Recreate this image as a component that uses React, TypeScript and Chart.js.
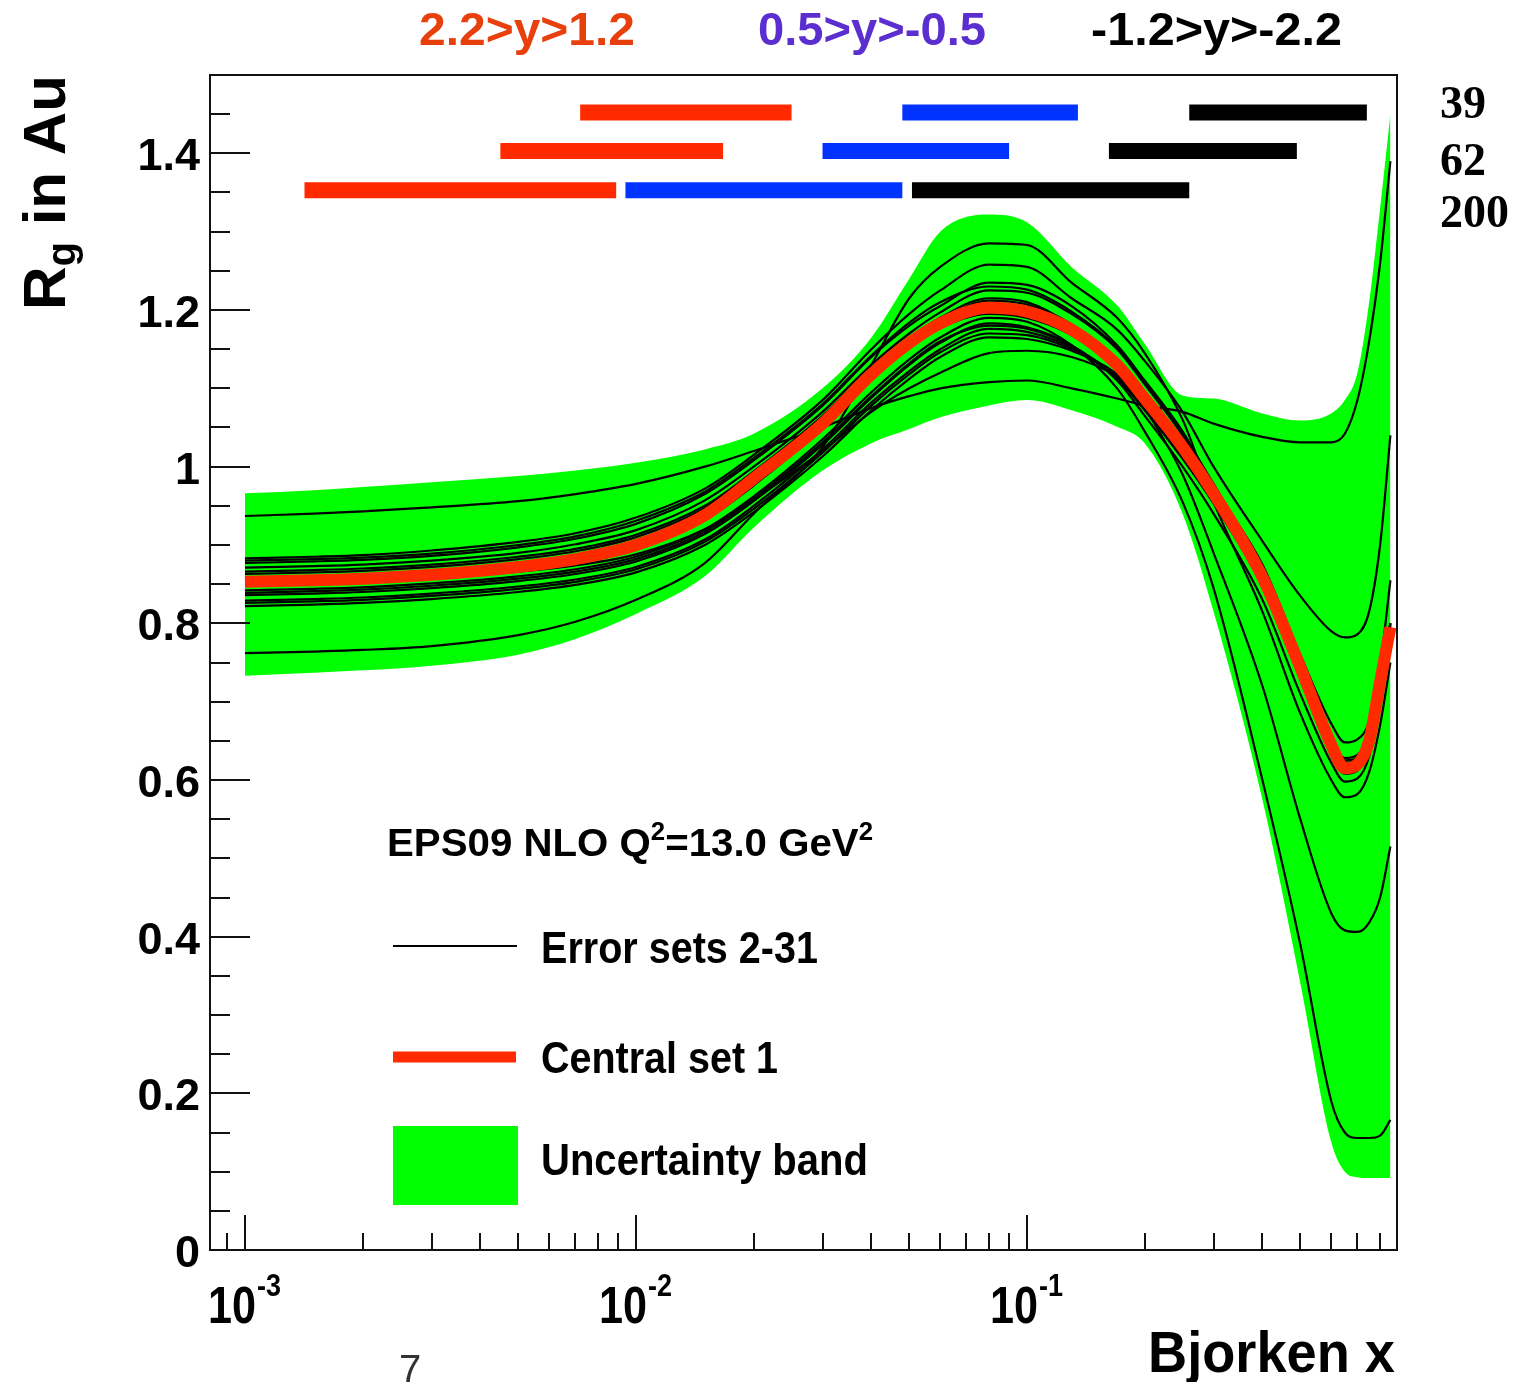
import React, { useEffect, useRef } from 'react';
import { Chart, registerables } from 'chart.js';

Chart.register(...registerables);

// ---------- data ----------
const X_GRID = [0.001, 0.0015, 0.002, 0.003, 0.005, 0.007, 0.01, 0.015, 0.02, 0.03, 0.04, 0.05, 0.06, 0.08, 0.1, 0.13, 0.17, 0.2, 0.25, 0.3, 0.4, 0.5, 0.6, 0.65, 0.7, 0.75, 0.8, 0.85];

const CENTRAL_SET = [0.853, 0.855, 0.857, 0.862, 0.872, 0.882, 0.900, 0.938, 0.985, 1.055, 1.118, 1.158, 1.183, 1.203, 1.198, 1.175, 1.130, 1.087, 1.025, 0.966, 0.859, 0.744, 0.645, 0.615, 0.620, 0.650, 0.725, 0.795];

const BAND_UPPER = [0.966, 0.970, 0.974, 0.980, 0.988, 0.995, 1.005, 1.022, 1.042, 1.100, 1.165, 1.240, 1.300, 1.322, 1.312, 1.255, 1.206, 1.157, 1.091, 1.087, 1.068, 1.059, 1.068, 1.085, 1.120, 1.210, 1.330, 1.450];
const BAND_LOWER = [0.733, 0.737, 0.740, 0.746, 0.760, 0.780, 0.812, 0.860, 0.922, 0.995, 1.030, 1.048, 1.063, 1.078, 1.085, 1.072, 1.051, 1.030, 0.940, 0.815, 0.575, 0.341, 0.138, 0.100, 0.093, 0.092, 0.092, 0.092];

const ERR_A = [0.937, 0.940, 0.943, 0.948, 0.956, 0.965, 0.978, 1.000, 1.020, 1.050, 1.075, 1.090, 1.100, 1.108, 1.110, 1.100, 1.087, 1.078, 1.070, 1.055, 1.038, 1.031, 1.031, 1.042, 1.085, 1.160, 1.260, 1.390];
const ERR_B = [0.762, 0.764, 0.766, 0.771, 0.785, 0.802, 0.830, 0.877, 0.940, 1.025, 1.130, 1.215, 1.255, 1.285, 1.283, 1.235, 1.190, 1.145, 1.060, 0.955, 0.815, 0.685, 0.600, 0.578, 0.582, 0.610, 0.670, 0.750];
const ERR_C = [0.883, 0.885, 0.887, 0.893, 0.904, 0.915, 0.935, 0.972, 1.015, 1.085, 1.150, 1.195, 1.225, 1.258, 1.255, 1.215, 1.175, 1.135, 1.070, 1.000, 0.905, 0.835, 0.790, 0.782, 0.786, 0.815, 0.900, 1.040];
const ERR_D = [0.877, 0.879, 0.881, 0.886, 0.897, 0.908, 0.927, 0.965, 1.008, 1.078, 1.140, 1.180, 1.205, 1.235, 1.232, 1.205, 1.155, 1.110, 1.045, 0.975, 0.875, 0.760, 0.672, 0.648, 0.652, 0.675, 0.745, 0.855];
const ERR_E = [0.871, 0.873, 0.875, 0.880, 0.890, 0.901, 0.919, 0.957, 1.000, 1.070, 1.130, 1.170, 1.197, 1.225, 1.222, 1.195, 1.150, 1.105, 1.040, 0.975, 0.865, 0.750, 0.652, 0.625, 0.628, 0.658, 0.730, 0.800];
const ERR_F = [0.866, 0.868, 0.870, 0.875, 0.885, 0.895, 0.913, 0.950, 0.994, 1.065, 1.125, 1.163, 1.190, 1.215, 1.210, 1.180, 1.130, 1.075, 0.990, 0.890, 0.720, 0.550, 0.430, 0.408, 0.406, 0.418, 0.450, 0.515];
const ERR_G = [0.842, 0.844, 0.846, 0.851, 0.860, 0.869, 0.885, 0.920, 0.962, 1.035, 1.095, 1.137, 1.165, 1.190, 1.185, 1.155, 1.100, 1.045, 0.955, 0.845, 0.600, 0.390, 0.190, 0.150, 0.143, 0.143, 0.146, 0.166];
const ERR_H = [0.836, 0.838, 0.840, 0.845, 0.854, 0.863, 0.879, 0.914, 0.956, 1.028, 1.088, 1.130, 1.158, 1.183, 1.178, 1.155, 1.110, 1.065, 1.000, 0.940, 0.830, 0.710, 0.622, 0.598, 0.602, 0.630, 0.700, 0.780];
const ERR_I = [0.829, 0.831, 0.833, 0.838, 0.847, 0.856, 0.872, 0.907, 0.950, 1.022, 1.082, 1.122, 1.150, 1.176, 1.172, 1.152, 1.112, 1.072, 1.010, 0.953, 0.848, 0.735, 0.640, 0.612, 0.615, 0.645, 0.720, 0.790];
const ERR_J = [0.822, 0.824, 0.826, 0.831, 0.840, 0.849, 0.865, 0.900, 0.942, 1.013, 1.072, 1.112, 1.140, 1.165, 1.163, 1.148, 1.118, 1.082, 1.020, 0.960, 0.855, 0.745, 0.652, 0.628, 0.632, 0.662, 0.735, 0.800];
const ERR_K = [0.850, 0.852, 0.854, 0.858, 0.866, 0.874, 0.888, 0.920, 0.958, 1.020, 1.070, 1.100, 1.120, 1.145, 1.148, 1.140, 1.115, 1.085, 1.030, 0.970, 0.862, 0.748, 0.645, 0.618, 0.622, 0.652, 0.725, 0.795];
const ERR_L = [0.858, 0.860, 0.862, 0.867, 0.877, 0.887, 0.905, 0.943, 0.987, 1.058, 1.120, 1.160, 1.187, 1.212, 1.207, 1.182, 1.137, 1.093, 1.030, 0.970, 0.862, 0.747, 0.648, 0.620, 0.624, 0.655, 0.730, 0.798];
const ERR_M = [0.848, 0.850, 0.852, 0.857, 0.867, 0.877, 0.894, 0.932, 0.976, 1.050, 1.113, 1.153, 1.177, 1.195, 1.190, 1.168, 1.124, 1.082, 1.020, 0.960, 0.853, 0.738, 0.640, 0.612, 0.615, 0.646, 0.722, 0.790];
const ERR_N = [0.880, 0.882, 0.884, 0.889, 0.900, 0.911, 0.931, 0.968, 1.011, 1.080, 1.142, 1.184, 1.210, 1.230, 1.226, 1.198, 1.152, 1.108, 1.042, 0.978, 0.868, 0.752, 0.650, 0.622, 0.626, 0.656, 0.730, 0.800];
const ERR_O = [0.863, 0.865, 0.867, 0.872, 0.882, 0.892, 0.910, 0.947, 0.991, 1.062, 1.122, 1.162, 1.186, 1.205, 1.200, 1.176, 1.132, 1.090, 1.028, 0.968, 0.860, 0.745, 0.642, 0.614, 0.618, 0.648, 0.724, 0.794];
const ERR_P = [0.839, 0.841, 0.843, 0.848, 0.857, 0.866, 0.882, 0.917, 0.959, 1.031, 1.090, 1.132, 1.160, 1.180, 1.176, 1.154, 1.114, 1.074, 1.014, 0.956, 0.850, 0.738, 0.636, 0.608, 0.612, 0.642, 0.716, 0.786];
const ERR_Q = [0.826, 0.828, 0.830, 0.835, 0.844, 0.853, 0.869, 0.904, 0.946, 1.018, 1.078, 1.118, 1.146, 1.170, 1.168, 1.150, 1.116, 1.078, 1.016, 0.957, 0.852, 0.741, 0.640, 0.614, 0.618, 0.650, 0.726, 0.796];
const ERROR_SETS = [ERR_A, ERR_B, ERR_C, ERR_D, ERR_E, ERR_F, ERR_G, ERR_H, ERR_I, ERR_J, ERR_K, ERR_L, ERR_M, ERR_N, ERR_O, ERR_P, ERR_Q];

// rapidity coverage bars: rows = collision energies
const ENERGY_LABELS = ['39', '62', '200'];
const ROW_Y = [1.452, 1.403, 1.353];
const FORWARD_RANGES = [[0.0072, 0.025], [0.0045, 0.0167], [0.00142, 0.0089]];
const MID_RANGES = [[0.048, 0.135], [0.030, 0.090], [0.0094, 0.048]];
const BACKWARD_RANGES = [[0.26, 0.74], [0.162, 0.49], [0.0508, 0.26]];
const RAPIDITY_LABELS = ['2.2>y>1.2', '0.5>y>-0.5', '-1.2>y>-2.2'];

const Y_TICKS = [0, 0.2, 0.4, 0.6, 0.8, 1, 1.2, 1.4];
const Y_TICK_LABELS = ['0', '0.2', '0.4', '0.6', '0.8', '1', '1.2', '1.4'];
const X_MAJOR = [0.001, 0.01, 0.1];
const X_MAJOR_EXP = ['-3', '-2', '-1'];

const X_MIN = 0.000814;
const X_MAX = 0.8837;
const Y_MIN = 0;
const Y_MAX = 1.5;

// ---------- styles ----------
const GREEN = '#00ff00';
const RED = '#ff2a00';
const BLUE = '#0033ff';
const SANS = '"Liberation Sans", Arial, Helvetica, sans-serif';
const SERIF = '"Liberation Serif", "Times New Roman", serif';

type Part = { t: string; f: string; dy?: number };

function drawParts(
  ctx: CanvasRenderingContext2D,
  parts: Part[],
  x: number,
  y: number,
  color: string,
  width?: number,
  align: 'left' | 'center' | 'right' = 'left'
) {
  ctx.save();
  ctx.fillStyle = color;
  ctx.textBaseline = 'alphabetic';
  ctx.textAlign = 'left';
  let total = 0;
  const ws = parts.map((p) => {
    ctx.font = p.f;
    const w = ctx.measureText(p.t).width;
    total += w;
    return w;
  });
  const s = width ? width / total : 1;
  const w = total * s;
  const x0 = align === 'left' ? x : align === 'center' ? x - w / 2 : x - w;
  ctx.translate(x0, y);
  ctx.scale(s, 1);
  let cx = 0;
  parts.forEach((p, i) => {
    ctx.font = p.f;
    ctx.fillText(p.t, cx, p.dy || 0);
    cx += ws[i];
  });
  ctx.restore();
}

const decorPlugin = {
  id: 'rootDecor',
  afterDraw(chart: any) {
    const ctx: CanvasRenderingContext2D = chart.ctx;
    const { left, top, right, bottom } = chart.chartArea;
    const xs = chart.scales.x;
    const ys = chart.scales.y;

    ctx.save();
    // frame
    ctx.strokeStyle = '#111';
    ctx.lineWidth = 2;
    ctx.strokeRect(left, top, right - left, bottom - top);

    // y ticks
    for (let k = 0; k <= 29; k++) {
      const v = k * 0.05;
      const py = Math.round(ys.getPixelForValue(v));
      const len = k % 4 === 0 ? 40 : 20;
      ctx.beginPath();
      ctx.moveTo(left, py);
      ctx.lineTo(left + len, py);
      ctx.stroke();
    }
    // x ticks
    for (let e = -4; e <= -1; e++) {
      for (let m = 1; m <= 9; m++) {
        const v = m * Math.pow(10, e);
        if (v < X_MIN || v > X_MAX) continue;
        const px = Math.round(xs.getPixelForValue(v));
        const len = m === 1 ? 35 : 17;
        ctx.beginPath();
        ctx.moveTo(px, bottom);
        ctx.lineTo(px, bottom - len);
        ctx.stroke();
      }
    }

    // y tick labels
    Y_TICKS.forEach((v, i) => {
      const py = ys.getPixelForValue(v);
      drawParts(ctx, [{ t: Y_TICK_LABELS[i], f: `bold 45px ${SANS}` }], 200, py + 17, '#000', undefined, 'right');
    });

    // x tick labels 10^n
    X_MAJOR.forEach((v, i) => {
      const px = xs.getPixelForValue(v);
      drawParts(ctx, [{ t: '10', f: `bold 52px ${SANS}` }], px - 37, 1323, '#000', 48);
      drawParts(ctx, [{ t: X_MAJOR_EXP[i], f: `bold 32px ${SANS}` }], px + 12, 1296, '#000', 24);
    });

    // axis titles
    drawParts(ctx, [{ t: 'Bjorken x', f: `bold 58px ${SANS}` }], 1395, 1372, '#000', 247, 'right');
    ctx.save();
    ctx.translate(65, 310);
    ctx.rotate(-Math.PI / 2);
    drawParts(
      ctx,
      [
        { t: 'R', f: `bold 60px ${SANS}` },
        { t: 'g', f: `bold 40px ${SANS}`, dy: 10 },
        { t: ' in Au', f: `bold 60px ${SANS}` },
      ],
      0,
      0,
      '#000',
      235
    );
    ctx.restore();

    // rapidity labels
    drawParts(ctx, [{ t: RAPIDITY_LABELS[0], f: `bold 46px ${SANS}` }], 419, 45, '#e8400c', 216);
    drawParts(ctx, [{ t: RAPIDITY_LABELS[1], f: `bold 46px ${SANS}` }], 758, 45, '#5a2ecf', 228);
    drawParts(ctx, [{ t: RAPIDITY_LABELS[2], f: `bold 46px ${SANS}` }], 1091, 45, '#000', 251);

    // energy labels
    const eBase = [118, 175, 227];
    ENERGY_LABELS.forEach((s, i) => {
      drawParts(ctx, [{ t: s, f: `bold 46px ${SERIF}` }], 1440, eBase[i], '#000');
    });

    // legend block
    drawParts(
      ctx,
      [
        { t: 'EPS09 NLO Q', f: `bold 39px ${SANS}` },
        { t: '2', f: `bold 25px ${SANS}`, dy: -16 },
        { t: '=13.0 GeV', f: `bold 39px ${SANS}` },
        { t: '2', f: `bold 25px ${SANS}`, dy: -16 },
      ],
      387,
      856,
      '#000',
      486
    );
    ctx.strokeStyle = '#000';
    ctx.lineWidth = 2;
    ctx.beginPath();
    ctx.moveTo(393, 946);
    ctx.lineTo(517, 946);
    ctx.stroke();
    drawParts(ctx, [{ t: 'Error sets 2-31', f: `bold 44px ${SANS}` }], 541, 963, '#000', 277);

    ctx.strokeStyle = RED;
    ctx.lineWidth = 11;
    ctx.beginPath();
    ctx.moveTo(393, 1057);
    ctx.lineTo(516, 1057);
    ctx.stroke();
    drawParts(ctx, [{ t: 'Central set 1', f: `bold 44px ${SANS}` }], 541, 1073, '#000', 237);

    ctx.fillStyle = GREEN;
    ctx.fillRect(393, 1126, 125, 79);
    drawParts(ctx, [{ t: 'Uncertainty band', f: `bold 44px ${SANS}` }], 541, 1175, '#000', 327);

    // page number
    drawParts(ctx, [{ t: '7', f: `normal 40px ${SANS}` }], 399, 1383, '#333');
    ctx.restore();
  },
};

function pts(ys: number[]) {
  return X_GRID.map((x, i) => ({ x, y: ys[i] }));
}

function rangeDataset(range: number[], y: number, color: string) {
  return {
    data: [
      { x: range[0], y },
      { x: range[1], y },
    ],
    borderColor: color,
    backgroundColor: color,
    borderWidth: 16,
    borderCapStyle: 'butt' as const,
    pointRadius: 0,
    fill: false,
    order: 1,
  };
}

export default function App() {
  const canvasRef = useRef<HTMLCanvasElement | null>(null);

  useEffect(() => {
    const canvas = canvasRef.current;
    if (!canvas) return;

    const datasets: any[] = [];
    datasets.push({
      label: 'band-upper',
      data: pts(BAND_UPPER),
      borderWidth: 0,
      borderColor: 'rgba(0,0,0,0)',
      backgroundColor: GREEN,
      pointRadius: 0,
      fill: '+1',
      cubicInterpolationMode: 'monotone',
      order: 10,
    });
    datasets.push({
      label: 'band-lower',
      data: pts(BAND_LOWER),
      borderWidth: 0,
      borderColor: 'rgba(0,0,0,0)',
      pointRadius: 0,
      fill: false,
      cubicInterpolationMode: 'monotone',
      order: 10,
    });
    ERROR_SETS.forEach((s, i) => {
      datasets.push({
        label: `error-${i + 2}`,
        data: pts(s),
        borderColor: '#000',
        borderWidth: 2.2,
        pointRadius: 0,
        fill: false,
        cubicInterpolationMode: 'monotone',
        order: 5,
      });
    });
    datasets.push({
      label: 'central',
      data: pts(CENTRAL_SET),
      borderColor: RED,
      borderWidth: 12,
      borderCapStyle: 'butt',
      pointRadius: 0,
      fill: false,
      cubicInterpolationMode: 'monotone',
      order: 2,
    });
    ROW_Y.forEach((y, i) => {
      datasets.push(rangeDataset(FORWARD_RANGES[i], y, RED));
      datasets.push(rangeDataset(MID_RANGES[i], y, BLUE));
      datasets.push(rangeDataset(BACKWARD_RANGES[i], y, '#000'));
    });

    const chart = new Chart(canvas, {
      type: 'line',
      data: { datasets },
      options: {
        responsive: false,
        animation: false,
        events: [],
        layout: { padding: { left: 210, top: 75, right: 135, bottom: 132 } },
        plugins: {
          legend: { display: false },
          tooltip: { enabled: false },
        },
        scales: {
          x: { type: 'logarithmic', min: X_MIN, max: X_MAX, display: false },
          y: { type: 'linear', min: Y_MIN, max: Y_MAX, display: false },
        },
        elements: { point: { radius: 0 } },
      },
      plugins: [decorPlugin],
    } as any);

    return () => chart.destroy();
  }, []);

  return (
    <div style={{ position: 'absolute', left: 0, top: 0, width: 1532, height: 1382, background: '#fff' }}>
      <canvas ref={canvasRef} width={1532} height={1382} style={{ display: 'block' }} />
    </div>
  );
}
